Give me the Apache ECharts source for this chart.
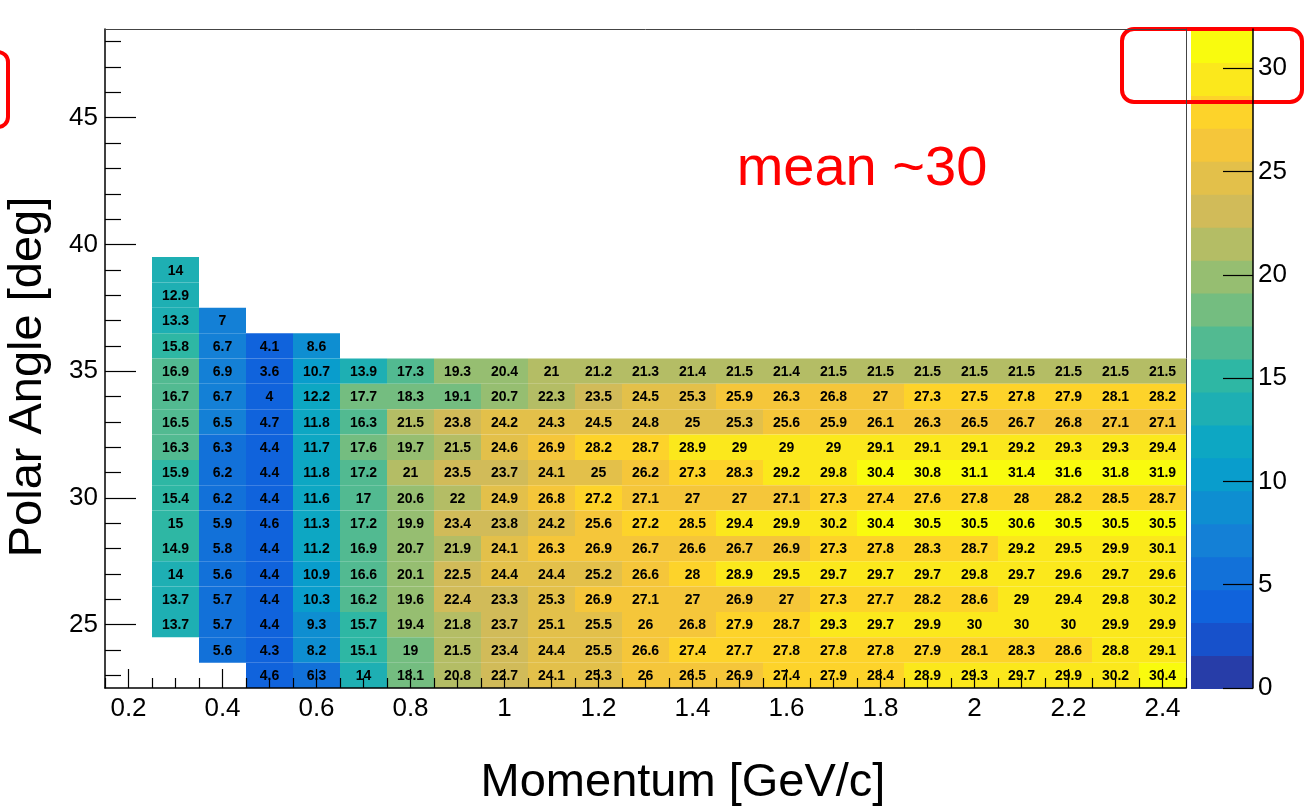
<!DOCTYPE html>
<html>
<head>
<meta charset="utf-8">
<script src="https://cdn.jsdelivr.net/npm/echarts@6/dist/echarts.min.js"></script>
<style>
html,body{margin:0;padding:0;background:#fff;}
#chart{width:1306px;height:808px;}
</style>
</head>
<body>
<div id="chart"></div>
<script>
// ---------------- data ----------------
const momentumBins = [0.3,0.4,0.5,0.6,0.7,0.8,0.9,1.0,1.1,1.2,1.3,1.4,1.5,1.6,1.7,1.8,1.9,2.0,2.1,2.2,2.3,2.4];
const polarAngleBins = [39,38,37,36,35,34,33,32,31,30,29,28,27,26,25,24,23];

const theta39 = [14];
const theta38 = [12.9];
const theta37 = [13.3, 7];
const theta36 = [15.8, 6.7, 4.1, 8.6];
const theta35 = [16.9, 6.9, 3.6, 10.7, 13.9, 17.3, 19.3, 20.4, 21, 21.2, 21.3, 21.4, 21.5, 21.4, 21.5, 21.5, 21.5, 21.5, 21.5, 21.5, 21.5, 21.5];
const theta34 = [16.7, 6.7, 4, 12.2, 17.7, 18.3, 19.1, 20.7, 22.3, 23.5, 24.5, 25.3, 25.9, 26.3, 26.8, 27, 27.3, 27.5, 27.8, 27.9, 28.1, 28.2];
const theta33 = [16.5, 6.5, 4.7, 11.8, 16.3, 21.5, 23.8, 24.2, 24.3, 24.5, 24.8, 25, 25.3, 25.6, 25.9, 26.1, 26.3, 26.5, 26.7, 26.8, 27.1, 27.1];
const theta32 = [16.3, 6.3, 4.4, 11.7, 17.6, 19.7, 21.5, 24.6, 26.9, 28.2, 28.7, 28.9, 29, 29, 29, 29.1, 29.1, 29.1, 29.2, 29.3, 29.3, 29.4];
const theta31 = [15.9, 6.2, 4.4, 11.8, 17.2, 21, 23.5, 23.7, 24.1, 25, 26.2, 27.3, 28.3, 29.2, 29.8, 30.4, 30.8, 31.1, 31.4, 31.6, 31.8, 31.9];
const theta30 = [15.4, 6.2, 4.4, 11.6, 17, 20.6, 22, 24.9, 26.8, 27.2, 27.1, 27, 27, 27.1, 27.3, 27.4, 27.6, 27.8, 28, 28.2, 28.5, 28.7];
const theta29 = [15, 5.9, 4.6, 11.3, 17.2, 19.9, 23.4, 23.8, 24.2, 25.6, 27.2, 28.5, 29.4, 29.9, 30.2, 30.4, 30.5, 30.5, 30.6, 30.5, 30.5, 30.5];
const theta28 = [14.9, 5.8, 4.4, 11.2, 16.9, 20.7, 21.9, 24.1, 26.3, 26.9, 26.7, 26.6, 26.7, 26.9, 27.3, 27.8, 28.3, 28.7, 29.2, 29.5, 29.9, 30.1];
const theta27 = [14, 5.6, 4.4, 10.9, 16.6, 20.1, 22.5, 24.4, 24.4, 25.2, 26.6, 28, 28.9, 29.5, 29.7, 29.7, 29.7, 29.8, 29.7, 29.6, 29.7, 29.6];
const theta26 = [13.7, 5.7, 4.4, 10.3, 16.2, 19.6, 22.4, 23.3, 25.3, 26.9, 27.1, 27, 26.9, 27, 27.3, 27.7, 28.2, 28.6, 29, 29.4, 29.8, 30.2];
const theta25 = [13.7, 5.7, 4.4, 9.3, 15.7, 19.4, 21.8, 23.7, 25.1, 25.5, 26, 26.8, 27.9, 28.7, 29.3, 29.7, 29.9, 30, 30, 30, 29.9, 29.9];
const theta24 = [null, 5.6, 4.3, 8.2, 15.1, 19, 21.5, 23.4, 24.4, 25.5, 26.6, 27.4, 27.7, 27.8, 27.8, 27.8, 27.9, 28.1, 28.3, 28.6, 28.8, 29.1];
const theta23 = [null, null, 4.6, 6.3, 14, 18.1, 20.8, 22.7, 24.1, 25.3, 26, 26.5, 26.9, 27.4, 27.9, 28.4, 28.9, 29.3, 29.7, 29.9, 30.2, 30.4];

const valueRows = [theta39, theta38, theta37, theta36, theta35, theta34, theta33, theta32, theta31,
                   theta30, theta29, theta28, theta27, theta26, theta25, theta24, theta23];

// tick labels
const xMajorTicks = [0.2, 0.4, 0.6, 0.8, 1, 1.2, 1.4, 1.6, 1.8, 2, 2.2, 2.4];
const yMajorTicks = [25, 30, 35, 40, 45];
const zTicks = [0, 5, 10, 15, 20, 25, 30];

// colour scale (20 contours from 0 to maximum)
const zMax = 31.9;
const nContours = 20;

// ---------------- styling helpers ----------------
const momentumBinWidth = 0.1;
const angleBinWidth = 1;
const xRange = [0.15, 2.45];
const yRange = [22.5, 48.5];

const xMinorTicks = [];
for (let i = 3; i <= 49; i++) { const v = Math.round(i * 5) / 100; if (i % 4 !== 0) xMinorTicks.push(v); }
const yMinorTicks = [];
for (let v = 23; v <= 48; v++) { if (v % 5 !== 0) yMinorTicks.push(v); }

// ROOT kBird palette
const birdStops = [0.0, 0.125, 0.25, 0.375, 0.5, 0.625, 0.75, 0.875, 1.0];
const birdR = [0.2082, 0.0592, 0.0780, 0.0232, 0.1802, 0.5301, 0.8186, 0.9956, 0.9764];
const birdG = [0.1664, 0.3599, 0.5041, 0.6419, 0.7178, 0.7492, 0.7328, 0.7862, 0.9832];
const birdB = [0.5293, 0.8684, 0.8385, 0.7914, 0.6425, 0.4662, 0.3499, 0.1968, 0.0539];
function bird(f) {
  f = Math.max(0, Math.min(1, f));
  let k = 0;
  while (k < birdStops.length - 2 && f > birdStops[k + 1]) k++;
  const t = (f - birdStops[k]) / (birdStops[k + 1] - birdStops[k]);
  const c = (a) => Math.round(255 * (a[k] + t * (a[k + 1] - a[k])));
  return 'rgb(' + c(birdR) + ',' + c(birdG) + ',' + c(birdB) + ')';
}
const levelStep = zMax / nContours;
const pieces = [];
const colorbarData = [];
for (let i = 0; i < nContours; i++) {
  const idx = Math.floor((i + 0.99) * 255 / nContours);
  const piece = { gte: i * levelStep, color: bird(idx / 254) };
  if (i < nContours - 1) piece.lt = (i + 1) * levelStep; else piece.lte = zMax + 1;
  pieces.push(piece);
  colorbarData.push([0.5, (i + 0.5) * levelStep, (i + 0.5) * levelStep]);
}

const cells = [];
valueRows.forEach((row, r) => {
  row.forEach((v, c) => {
    if (v !== null && v !== undefined) cells.push([momentumBins[c], polarAngleBins[r], v]);
  });
});

const FONT = '"Liberation Sans", Arial, Helvetica, sans-serif';
const tickLine = { color: '#000', width: 1.2 };
const AXZ = 10;

const chart = echarts.init(document.getElementById('chart'), null, { renderer: 'canvas' });
chart.setOption({
  backgroundColor: '#ffffff',
  animation: false,
  textStyle: { fontFamily: FONT },
  grid: [
    { left: 105, top: 29, width: 1081, height: 659, show: false },
    { left: 1191, top: 29, width: 62, height: 659, show: false }
  ],
  visualMap: {
    type: 'piecewise',
    show: false,
    dimension: 2,
    seriesIndex: [0, 1],
    pieces: pieces
  },
  xAxis: [
    {
      type: 'value', gridIndex: 0, position: 'bottom', min: xRange[0], max: xRange[1], z: AXZ,
      axisLine: { show: true, onZero: false, lineStyle: { color: '#000', width: 1.5 } },
      splitLine: { show: false },
      axisTick: { show: true, inside: true, length: 19, customValues: xMajorTicks, lineStyle: tickLine },
      axisLabel: { show: true, customValues: xMajorTicks, fontSize: 26, color: '#000', fontFamily: FONT, margin: 8 }
    },
    {
      type: 'value', gridIndex: 0, position: 'bottom', min: xRange[0], max: xRange[1], z: AXZ,
      axisLine: { show: false, onZero: false }, splitLine: { show: false },
      axisTick: { show: true, inside: true, length: 10, customValues: xMinorTicks, lineStyle: tickLine },
      axisLabel: { show: false }
    },
    {
      type: 'value', gridIndex: 0, position: 'top', min: xRange[0], max: xRange[1], z: AXZ,
      axisLine: { show: true, onZero: false, lineStyle: { color: '#444', width: 1 } },
      splitLine: { show: false }, axisTick: { show: false }, axisLabel: { show: false }
    },
    { type: 'value', gridIndex: 1, min: 0, max: 1, show: false }
  ],
  yAxis: [
    {
      type: 'value', gridIndex: 0, position: 'left', min: yRange[0], max: yRange[1], z: AXZ,
      axisLine: { show: true, onZero: false, lineStyle: { color: '#000', width: 1.5 } },
      splitLine: { show: false },
      axisTick: { show: true, inside: true, length: 31, customValues: yMajorTicks, lineStyle: tickLine },
      axisLabel: { show: true, customValues: yMajorTicks, fontSize: 26, color: '#000', fontFamily: FONT, margin: 7 }
    },
    {
      type: 'value', gridIndex: 0, position: 'left', min: yRange[0], max: yRange[1], z: AXZ,
      axisLine: { show: false, onZero: false }, splitLine: { show: false },
      axisTick: { show: true, inside: true, length: 16, customValues: yMinorTicks, lineStyle: tickLine },
      axisLabel: { show: false }
    },
    {
      type: 'value', gridIndex: 0, position: 'right', min: yRange[0], max: yRange[1], z: AXZ,
      axisLine: { show: true, onZero: false, lineStyle: { color: '#444', width: 1 } },
      splitLine: { show: false }, axisTick: { show: false }, axisLabel: { show: false }
    },
    {
      type: 'value', gridIndex: 1, position: 'right', min: 0, max: zMax, z: AXZ,
      axisLine: { show: true, onZero: false, lineStyle: { color: '#000', width: 1.5 } },
      splitLine: { show: false },
      axisTick: { show: true, inside: true, length: 30, customValues: zTicks, lineStyle: tickLine },
      axisLabel: { show: true, customValues: zTicks, fontSize: 26, color: '#000', fontFamily: FONT, margin: 5 }
    }
  ],
  series: [
    {
      type: 'custom',
      xAxisIndex: 0, yAxisIndex: 0,
      data: cells,
      z: 1,
      renderItem: function (params, api) {
        const x = api.value(0), y = api.value(1), v = api.value(2);
        const p0 = api.coord([x - momentumBinWidth / 2, y + angleBinWidth / 2]);
        const p1 = api.coord([x + momentumBinWidth / 2, y - angleBinWidth / 2]);
        const c = api.coord([x, y]);
        return {
          type: 'group',
          children: [
            { type: 'rect', shape: { x: p0[0], y: p0[1], width: p1[0] - p0[0], height: p1[1] - p0[1] },
              style: { fill: api.visual('color') } },
            { type: 'text', x: c[0], y: c[1] + 1,
              style: { text: String(v), fill: '#000', fontSize: 14, fontWeight: 'bold', fontFamily: FONT,
                       align: 'center', verticalAlign: 'middle' } }
          ]
        };
      }
    },
    {
      type: 'custom',
      xAxisIndex: 3, yAxisIndex: 3,
      data: colorbarData,
      z: 1,
      renderItem: function (params, api) {
        const mid = api.value(1);
        const p0 = api.coord([0, mid + levelStep / 2]);
        const p1 = api.coord([1, mid - levelStep / 2]);
        return { type: 'rect', shape: { x: p0[0], y: p0[1], width: p1[0] - p0[0], height: p1[1] - p0[1] + 1 },
                 style: { fill: api.visual('color') } };
      }
    }
  ],
  graphic: [
    { type: 'text', x: 683, y: 783, z: 10,
      style: { text: 'Momentum [GeV/c]', fontSize: 47, fontFamily: FONT, fill: '#000', align: 'center', verticalAlign: 'middle' } },
    { type: 'text', x: 28, y: 377, rotation: Math.PI / 2, z: 10,
      style: { text: 'Polar Angle [deg]', fontSize: 47, fontFamily: FONT, fill: '#000', align: 'center', verticalAlign: 'middle' } },
    { type: 'text', x: 862, y: 170, z: 10,
      style: { text: 'mean ~30', fontSize: 56, fontFamily: FONT, fill: '#ff0000', align: 'center', verticalAlign: 'middle' } },
    { type: 'rect', z: 10, shape: { x: 1122, y: 29, width: 180, height: 73, r: 12 },
      style: { fill: 'none', stroke: '#ff0000', lineWidth: 4 } },
    { type: 'rect', z: 10, shape: { x: -40, y: 52, width: 48, height: 75, r: 10 },
      style: { fill: 'none', stroke: '#ff0000', lineWidth: 4 } }
  ]
});
</script>
</body>
</html>
